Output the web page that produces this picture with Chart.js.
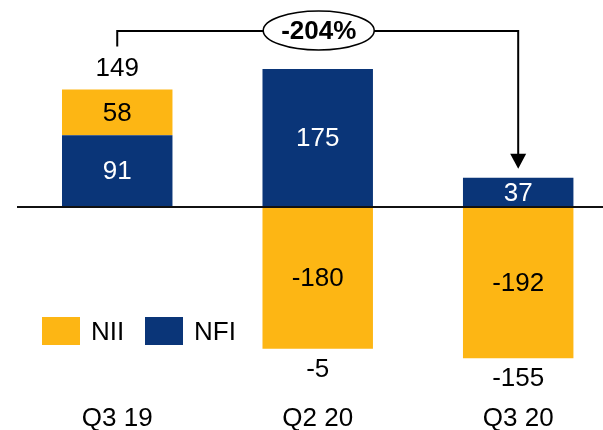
<!DOCTYPE html>
<html><head><meta charset="utf-8">
<script src="https://cdn.jsdelivr.net/npm/chart.js@4"></script>
<style>html,body{margin:0;padding:0;background:#fff;overflow:hidden}#wrap{width:603px;height:430px;position:relative}</style>
</head><body><div id="wrap"><canvas id="c"></canvas></div>
<script>
const categories = ['Q3 19', 'Q2 20', 'Q3 20'];
const nfiValues = [91, 175, 37];
const niiValues = [58, -180, -192];
const totalValues = [149, -5, -155];
const changeLabel = '-204%';
const seriesNames = ['NII', 'NFI'];

const YELLOW = '#FDB614';
const BLUE = '#0A3578';
const FONT = '"Liberation Sans", Arial, sans-serif';

const overlay = {
  id: 'overlay',
  afterDatasetsDraw(chart) {
    const ctx = chart.ctx, xs = chart.scales.x, ys = chart.scales.y, ca = chart.chartArea;
    ctx.save();
    // zero line
    const y0 = Math.round(ys.getPixelForValue(0));
    ctx.strokeStyle = '#111';
    ctx.lineWidth = 2;
    ctx.beginPath(); ctx.moveTo(ca.left, y0); ctx.lineTo(ca.right, y0); ctx.stroke();

    // segment labels
    ctx.font = '26px ' + FONT;
    ctx.textAlign = 'center';
    ctx.textBaseline = 'middle';
    chart.data.datasets.forEach((ds, di) => {
      const meta = chart.getDatasetMeta(di);
      meta.data.forEach((bar, i) => {
        const p = bar.getProps(['x', 'y', 'base'], true);
        ctx.fillStyle = ds.labelColor;
        ctx.fillText(String(ds.data[i].y), p.x, (p.y + p.base) / 2 + 1);
      });
    });

    // totals
    ctx.fillStyle = '#000';
    totalValues.forEach((t, i) => {
      const x = xs.getPixelForValue(i);
      let pos = 0, neg = 0;
      chart.data.datasets.forEach(ds => { const v = ds.data[i].y; if (v >= 0) pos += v; else neg += v; });
      if (t >= 0) {
        ctx.fillText(String(t), x, ys.getPixelForValue(pos) - 21);
      } else {
        ctx.fillText(String(t), x, ys.getPixelForValue(neg) + 21);
      }
    });

    // bracket arrow
    const xa = xs.getPixelForValue(0), xb = xs.getPixelForValue(2);
    const yTop = ys.getPixelForValue(ys.max) + 21;
    let posA = 0; chart.data.datasets.forEach(ds => { if (ds.data[0].y > 0) posA += ds.data[0].y; });
    const yStart = ys.getPixelForValue(posA) - 43;
    const tip = ys.getPixelForValue(nfiValues[2]) - 9;
    ctx.strokeStyle = '#000';
    ctx.lineWidth = 2;
    ctx.beginPath();
    ctx.moveTo(xa, yStart); ctx.lineTo(xa, yTop); ctx.lineTo(xb, yTop); ctx.lineTo(xb, tip - 14);
    ctx.stroke();
    ctx.fillStyle = '#000';
    ctx.beginPath();
    ctx.moveTo(xb - 8, tip - 15); ctx.lineTo(xb + 8, tip - 15); ctx.lineTo(xb, tip); ctx.closePath(); ctx.fill();

    // ellipse
    const cx = (xa + xb) / 2 + 1;
    ctx.beginPath();
    ctx.ellipse(cx, yTop - 0.5, 55.5, 19.5, 0, 0, Math.PI * 2);
    ctx.fillStyle = '#fff'; ctx.fill();
    ctx.lineWidth = 1.5; ctx.strokeStyle = '#000'; ctx.stroke();
    ctx.fillStyle = '#000';
    ctx.font = 'bold 26px ' + FONT;
    ctx.fillText(changeLabel, cx, yTop + 1);

    // legend
    ctx.font = '26px ' + FONT;
    ctx.textAlign = 'left';
    const legendColors = [YELLOW, BLUE];
    const lx = [42, 145];
    seriesNames.forEach((n, k) => {
      ctx.fillStyle = legendColors[k];
      ctx.fillRect(lx[k], 317, 38, 28);
      ctx.fillStyle = '#000';
      ctx.fillText(n, lx[k] + 49, 333);
    });
    ctx.restore();
  }
};

new Chart(document.getElementById('c'), {
  type: 'bar',
  data: {
    datasets: [
      { label: seriesNames[1], data: nfiValues.map((v, i) => ({ x: i, y: v })), backgroundColor: BLUE, labelColor: '#fff', borderWidth: 0 },
      { label: seriesNames[0], data: niiValues.map((v, i) => ({ x: i, y: v })), backgroundColor: YELLOW, labelColor: '#000', borderWidth: 0 }
    ]
  },
  options: {
    responsive: true,
    maintainAspectRatio: false,
    animation: false,
    layout: { padding: { left: 17, right: 0, top: 10, bottom: 0 } },
    categoryPercentage: 1,
    barPercentage: 0.551,
    plugins: { legend: { display: false }, tooltip: { enabled: false } },
    scales: {
      x: {
        type: 'linear', stacked: true, offset: false,
        min: -0.5, max: 2.423,
        afterBuildTicks: (axis) => { axis.ticks = categories.map((_, i) => ({ value: i })); },
        grid: { display: false, drawTicks: false },
        border: { display: false },
        ticks: {
          callback: (v) => categories[v] ?? '',
          autoSkip: false, maxRotation: 0, padding: 0,
          color: '#000',
          font: { family: FONT, size: 26, lineHeight: 0.87 }
        }
      },
      y: {
        stacked: true, display: false, min: -254.4, max: 250
      }
    }
  },
  plugins: [overlay]
});
</script>
</body></html>
